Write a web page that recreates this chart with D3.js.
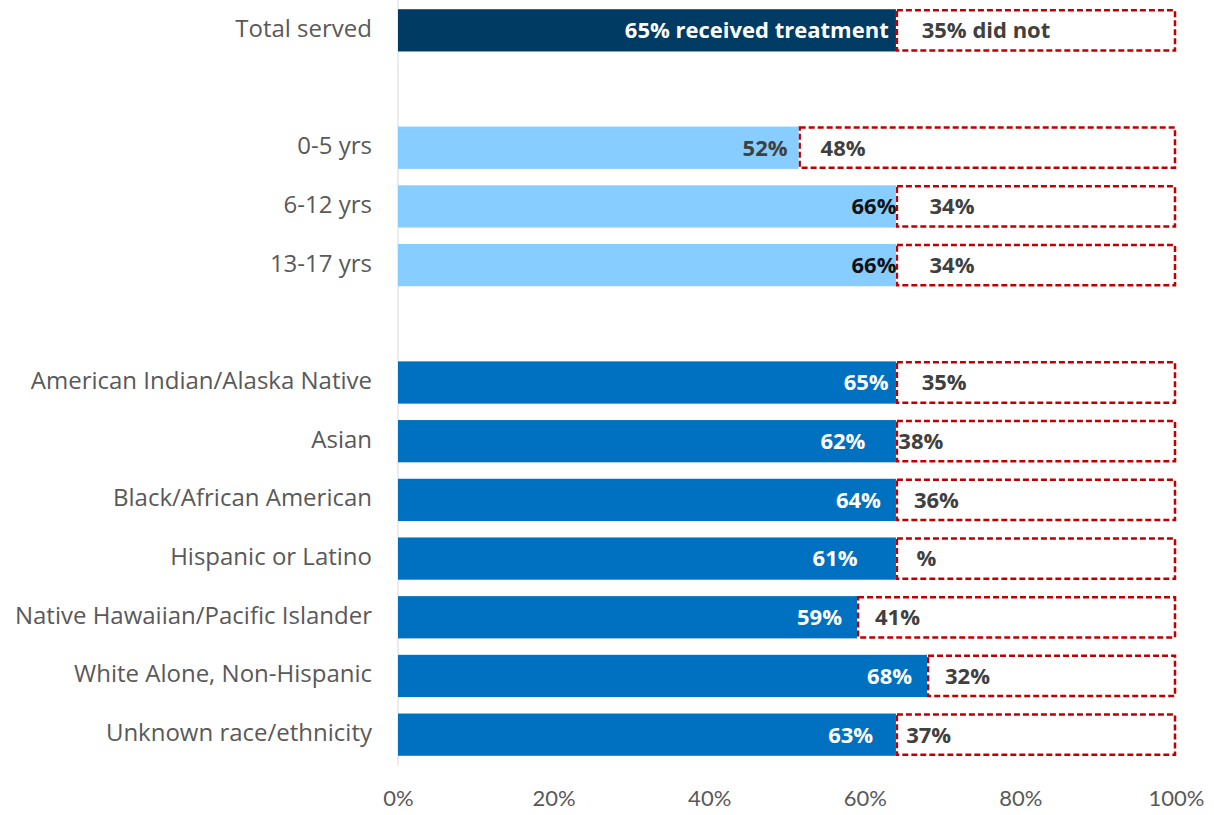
<!DOCTYPE html>
<html>
<head>
<meta charset="utf-8">
<script src="https://cdn.jsdelivr.net/npm/d3@7"></script>
<style>
  body { margin: 0; background: #fff; }
  text { font-family: "Open Sans", Lato, sans-serif; }
</style>
</head>
<body>
<div class="chart"></div>
<script>
// rows, blank strings are the gaps between groups
var categories = ["Total served", "", "0-5 yrs", "6-12 yrs", "13-17 yrs", "",
  "American Indian/Alaska Native", "Asian", "Black/African American", "Hispanic or Latino",
  "Native Hawaiian/Pacific Islander", "White Alone, Non-Hispanic", "Unknown race/ethnicity"];
// bar lengths as drawn in the picture
var barValues = [64, null, 51.5, 64, 64, null, 64, 64, 64, 64, 59, 68, 64];
// printed percentages
var treatedPct = [65, null, 52, 66, 66, null, 65, 62, 64, 61, 59, 68, 63];
var treatedText = ["65% received treatment", "", "52%", "66%", "66%", "",
  "65%", "62%", "64%", "61%", "59%", "68%", "63%"];
var notText = ["35% did not", "", "48%", "34%", "34%", "",
  "35%", "38%", "36%", "%", "41%", "32%", "37%"];
var group = ["total", null, "age", "age", "age", null,
  "race", "race", "race", "race", "race", "race", "race"];
var xTicks = [0, 20, 40, 60, 80, 100];

var colors = { total: "#003B63", age: "#87CDFF", race: "#0070C0" };
var treatedColor = { total: "#fff", age: "#111", race: "#fff" };

var w = 1214, h = 815;
var left = 398, right = 1176;

var svg = d3.select(".chart").append("svg")
  .attr("width", w)
  .attr("height", h);

var x = d3.scaleLinear().domain([0, 100]).range([left, right]);
var y = d3.scaleBand()
  .domain(d3.range(categories.length))
  .range([1, 764])
  .paddingInner(0.28)
  .paddingOuter(0.14);

var rows = categories.map(function(c, i) {
  return { i: i, name: c, v: barValues[i], pct: treatedPct[i],
    tText: treatedText[i], nText: notText[i], g: group[i] };
}).filter(function(d) { return d.g; });

// light vertical axis line
svg.append("line")
  .attr("x1", x(0)).attr("x2", x(0))
  .attr("y1", 0).attr("y2", 766)
  .attr("stroke", "#d9d9d9")
  .attr("stroke-width", 1);

// did-not boxes
svg.selectAll("rect.not")
  .data(rows)
  .enter()
  .append("rect")
  .attr("class", "not")
  .attr("x", function(d) { return x(d.v) + 1; })
  .attr("y", function(d) { return y(d.i) + 1; })
  .attr("width", function(d) { return x(100) - x(d.v) - 2; })
  .attr("height", y.bandwidth() - 2)
  .attr("fill", "#fff")
  .attr("stroke", "#C00000")
  .attr("stroke-width", 2.5)
  .attr("stroke-dasharray", "6,3");

svg.selectAll("rect.bar")
  .data(rows)
  .enter()
  .append("rect")
  .attr("class", "bar")
  .attr("x", x(0))
  .attr("y", function(d) { return y(d.i); })
  .attr("width", function(d) { return x(d.v) - x(0); })
  .attr("height", y.bandwidth())
  .attr("fill", function(d) { return colors[d.g]; });

// category labels
svg.selectAll("text.cat")
  .data(rows)
  .enter()
  .append("text")
  .attr("class", "cat")
  .attr("x", x(0) - 26)
  .attr("y", function(d) { return y(d.i) + y.bandwidth() / 2; })
  .attr("text-anchor", "end")
  .attr("dominant-baseline", "middle")
  .attr("font-size", 24)
  .attr("fill", "#595959")
  .text(function(d) { return d.name; });

// treated labels
svg.selectAll("text.treated")
  .data(rows)
  .enter()
  .append("text")
  .attr("class", "treated")
  .attr("x", function(d) { return x(d.pct) - 15; })
  .attr("y", function(d) { return y(d.i) + y.bandwidth() / 2 + 2; })
  .attr("text-anchor", "end")
  .attr("dominant-baseline", "middle")
  .attr("font-size", 22)
  .attr("font-weight", "bold")
  .attr("fill", function(d) { return d.pct < 55 ? "#404040" : treatedColor[d.g]; })
  .text(function(d) { return d.tText; });

// did-not labels
svg.selectAll("text.notlbl")
  .data(rows)
  .enter()
  .append("text")
  .attr("class", "notlbl")
  .attr("x", function(d) { return x(d.pct) + 18; })
  .attr("dx", function(d) { return d.nText === "%" ? 26 : 0; })
  .attr("y", function(d) { return y(d.i) + y.bandwidth() / 2 + 2; })
  .attr("dominant-baseline", "middle")
  .attr("font-size", 22)
  .attr("font-weight", "bold")
  .attr("fill", "#404040")
  .text(function(d) { return d.nText; });

// x axis
var xAxis = d3.axisBottom(x)
  .tickValues(xTicks)
  .tickFormat(function(d) { return d + "%"; })
  .tickSize(0)
  .tickPadding(0);

var ax = svg.append("g")
  .attr("transform", "translate(0,790)")
  .call(xAxis);
ax.select(".domain").remove();
ax.selectAll("text")
  .attr("font-size", 22)
  .attr("fill", "#595959")
  .style("font-family", "Lato, sans-serif");
</script>
</body>
</html>
